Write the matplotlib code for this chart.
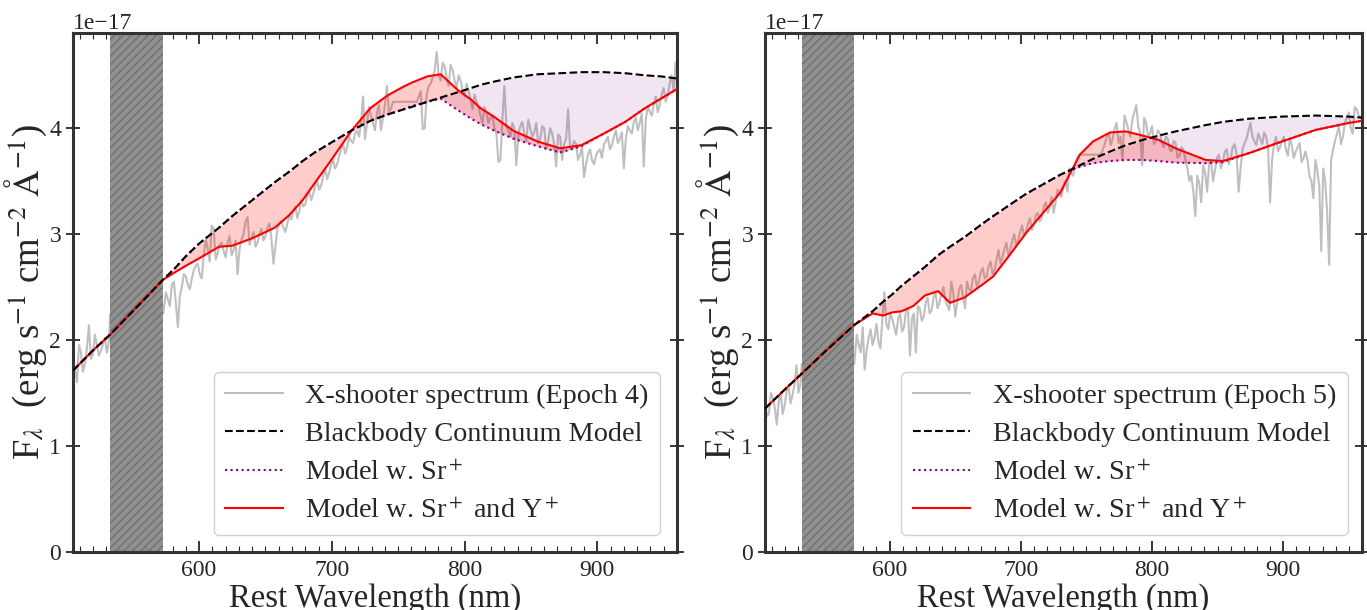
import numpy as np
import matplotlib
matplotlib.use('Agg')
import matplotlib.pyplot as plt
from matplotlib.ticker import MultipleLocator

plt.rcParams['font.family'] = ['Liberation Serif', 'DejaVu Serif']
plt.rcParams['mathtext.fontset'] = 'stix'
plt.rcParams['axes.unicode_minus'] = True

# spectrum wavelengths (nm): blue end, masked gap (533-573), red part
wl_blue = np.arange(505, 533, 1.5)
wl_gap = [533, 573]
wl_red = np.arange(575, 960, 1.5)

# X-shooter spectrum, Epoch 4 (units 1e-17 erg/s/cm2/A)
# values on the 3 nm points, then the in-between points
ep4_blue = [1.80, 1.60, 1.88, 1.78, 2.14, 1.86, 1.95, 1.90, 2.02, 1.98]
ep4_blue_mid = [1.72, 1.95, 1.70, 1.92, 1.82, 2.05, 1.85, 1.96, 1.88]
ep4_gap = [2.24, 2.25]
ep4_red = [
    2.45, 2.32, 2.55, 2.12, 2.50, 2.60, 2.48, 2.66, 2.72, 2.58,
    2.95, 2.74, 3.05, 2.82, 2.92, 2.78, 2.98, 2.85, 2.62, 2.95,
    3.12, 2.90, 3.02, 2.92, 3.05, 2.98, 3.10, 2.72, 3.05, 3.12,
    3.02, 3.18, 3.22, 3.15, 3.32, 3.28, 3.40, 3.38, 3.50, 3.46,
    3.62, 3.58, 3.70, 3.66, 3.80, 3.76, 3.92, 3.86, 3.98, 4.05,
    3.90, 4.20, 4.05, 4.15, 3.98, 4.22, 4.15, 4.25, 4.25, 4.25,
    4.25, 4.25, 4.25, 4.25, 4.35, 4.00, 4.40, 4.48, 4.72, 4.45,
    4.58, 4.40, 4.55, 4.38, 4.45, 4.30, 4.35, 4.18, 4.25, 4.12,
    4.20, 4.05, 4.12, 3.95, 3.70, 4.40, 3.98, 4.05, 3.65, 4.02,
    3.95, 4.08, 3.92, 4.05, 3.90, 4.00, 3.88, 3.95, 3.64, 3.92,
    3.85, 4.18, 3.80, 3.85, 3.75, 3.54, 3.75, 3.70, 3.74, 3.80,
    3.85, 3.92, 3.84, 3.98, 3.90, 3.62, 4.02, 3.95, 4.10, 4.05,
    3.64, 4.20, 4.12, 4.30, 4.22, 4.38, 4.30, 4.50, 4.62,
]
ep4_red_mid = [
    2.38, 2.52, 2.35, 2.42, 2.62, 2.52, 2.58, 2.70, 2.62, 2.80,
    2.86, 3.08, 2.76, 2.90, 2.84, 2.92, 2.80, 2.94, 2.86, 3.00,
    3.16, 2.96, 2.88, 3.00, 2.94, 3.06, 2.96, 2.88, 3.10, 3.06,
    3.10, 3.14, 3.26, 3.22, 3.26, 3.36, 3.32, 3.46, 3.42, 3.55,
    3.52, 3.66, 3.62, 3.74, 3.85, 3.82, 3.88, 3.95, 3.92, 4.30,
    4.05, 4.12, 3.98, 4.22, 4.10, 4.40, 4.18, 4.25, 4.25, 4.25,
    4.25, 4.25, 4.25, 4.30, 3.99, 4.32, 4.42, 4.55, 4.50, 4.62,
    4.48, 4.60, 4.45, 4.50, 4.36, 4.42, 4.28, 4.32, 4.20, 4.05,
    4.15, 4.10, 4.00, 3.68, 4.08, 4.02, 3.92, 4.00, 3.94, 4.06,
    3.88, 4.00, 3.96, 3.86, 4.02, 3.80, 4.00, 3.85, 3.94, 3.70,
    3.90, 3.82, 3.88, 3.70, 3.82, 3.66, 3.80, 3.66, 3.78, 3.72,
    3.88, 3.80, 3.92, 3.86, 3.96, 3.90, 3.98, 4.06, 3.98, 4.14,
    4.08, 4.16, 4.22, 4.15, 4.32, 4.25, 4.42, 4.35,
]

# X-shooter spectrum, Epoch 5
ep5_blue = [1.42, 1.30, 1.45, 1.20, 1.50, 1.38, 1.55, 1.48, 1.76, 1.58]
ep5_blue_mid = [1.28, 1.50, 1.36, 1.42, 1.30, 1.52, 1.40, 1.58, 1.50]
ep5_gap = [1.77, 1.77]
ep5_red = [
    2.05, 1.88, 1.72, 2.02, 1.95, 2.15, 1.92, 2.45, 2.10, 2.20,
    2.05, 2.25, 2.12, 2.30, 2.20, 1.88, 2.30, 2.22, 2.40, 2.28,
    2.45, 2.35, 2.50, 2.32, 2.55, 2.22, 2.48, 2.40, 2.55, 2.46,
    2.62, 2.55, 2.68, 2.60, 2.74, 2.66, 2.85, 2.78, 2.92, 2.85,
    3.00, 2.95, 3.08, 3.02, 3.15, 3.08, 3.20, 3.15, 3.30, 3.25,
    3.20, 3.42, 3.35, 3.50, 3.62, 3.55, 3.72, 3.75, 3.75, 3.75,
    3.75, 3.75, 3.75, 3.85, 3.95, 3.90, 4.05, 3.92, 4.12, 3.98,
    4.08, 4.22, 3.95, 4.10, 3.92, 4.02, 3.88, 3.95, 3.82, 3.90,
    3.78, 3.86, 3.74, 3.80, 3.62, 3.55, 3.17, 3.48, 3.65, 3.40,
    3.70, 3.60, 3.75, 3.68, 3.80, 3.72, 3.85, 3.40, 3.80, 3.90,
    4.05, 3.88, 3.95, 3.85, 3.92, 3.30, 3.85, 3.78, 3.88, 3.80,
    3.90, 3.72, 3.82, 3.68, 3.78, 3.55, 3.34, 3.60, 2.84, 3.50,
    2.71, 3.80, 3.95, 3.85, 4.05, 4.15, 3.95, 4.18, 4.10,
]
ep5_red_mid = [
    1.95, 2.12, 1.90, 2.10, 2.02, 1.98, 2.20, 2.15, 2.25, 2.12,
    2.20, 2.08, 2.28, 1.85, 2.25, 2.32, 2.18, 2.35, 2.25, 2.40,
    2.30, 2.44, 2.38, 2.28, 2.45, 2.35, 2.52, 2.30, 2.48, 2.58,
    2.50, 2.64, 2.58, 2.70, 2.62, 2.76, 2.72, 2.86, 2.80, 2.94,
    2.88, 3.02, 2.98, 3.10, 3.04, 3.18, 3.12, 3.26, 3.20, 3.35,
    3.30, 3.38, 3.45, 3.40, 3.58, 3.66, 3.75, 3.75, 3.75, 3.75,
    3.75, 3.75, 3.80, 3.92, 3.84, 4.00, 3.86, 3.70, 4.06, 3.92,
    4.15, 4.02, 3.65, 4.05, 3.95, 3.85, 3.98, 3.86, 3.92, 3.80,
    3.88, 3.72, 3.82, 3.70, 3.50, 3.40, 3.55, 3.30, 3.58, 3.66,
    3.50, 3.72, 3.62, 3.78, 3.66, 3.82, 3.75, 3.62, 3.86, 3.98,
    3.92, 3.84, 3.90, 3.96, 3.80, 3.70, 3.92, 3.82, 3.92, 3.74,
    3.84, 3.78, 3.86, 3.72, 3.70, 3.50, 3.70, 3.45, 3.62, 3.20,
    3.70, 3.88, 4.02, 3.92, 4.10, 4.00, 4.20, 4.12,
]

# model curves, Epoch 4
model_wl4 = [505, 520, 533, 550, 573, 582, 590, 600, 615, 625, 640, 657, 668, 678,
             687, 699, 715, 729, 742, 752, 760, 772, 782, 795, 805, 812, 822, 837,
             855, 872, 888, 905, 921, 936, 948, 960]
bb_ep4 = [1.71, 1.90, 2.05, 2.27, 2.57, 2.68, 2.79, 2.91, 3.06, 3.17, 3.32, 3.49, 3.59, 3.69,
          3.77, 3.86, 3.98, 4.07, 4.13, 4.17, 4.20, 4.25, 4.29, 4.34, 4.38, 4.41, 4.44, 4.48,
          4.51, 4.52, 4.53, 4.53, 4.52, 4.50, 4.49, 4.47]
sr_ep4 = [1.71, 1.90, 2.05, 2.27, 2.57, 2.68, 2.79, 2.91, 3.06, 3.17, 3.32, 3.49, 3.59, 3.69,
          3.77, 3.86, 3.98, 4.07, 4.13, 4.17, 4.21, 4.25, 4.28, 4.17, 4.09, 4.04, 3.98, 3.90,
          3.83, 3.77, 3.83, 3.95, 4.06, 4.19, 4.28, 4.37]
sry_ep4 = [1.71, 1.90, 2.05, 2.27, 2.57, 2.64, 2.70, 2.77, 2.88, 2.89, 2.96, 3.06, 3.18, 3.32,
           3.48, 3.69, 3.98, 4.19, 4.31, 4.38, 4.43, 4.49, 4.51, 4.36, 4.27, 4.19, 4.11, 3.975,
           3.875, 3.81, 3.84, 3.95, 4.06, 4.19, 4.28, 4.37]

# model curves, Epoch 5
model_wl5 = [505, 520, 533, 550, 573, 587, 595, 602, 609, 618, 627, 637, 646, 657, 671,
             679, 692, 704, 717, 730, 737, 745, 755, 768, 780, 793, 805, 818, 841, 854,
             874, 899, 925, 950, 960]
bb_ep5 = [1.35, 1.53, 1.68, 1.88, 2.14, 2.27, 2.36, 2.43, 2.51, 2.60, 2.69, 2.80, 2.88, 2.97, 3.10,
          3.17, 3.28, 3.38, 3.47, 3.56, 3.60, 3.65, 3.71, 3.78, 3.84, 3.89, 3.93, 3.97, 4.03, 4.06,
          4.09, 4.11, 4.12, 4.11, 4.10]
sr_ep5 = [1.35, 1.53, 1.68, 1.88, 2.14, 2.27, 2.36, 2.43, 2.51, 2.60, 2.69, 2.80, 2.88, 2.97, 3.10,
          3.17, 3.28, 3.38, 3.47, 3.56, 3.60, 3.635, 3.67, 3.69, 3.70, 3.70, 3.69, 3.675, 3.67, 3.68,
          3.765, 3.875, 3.985, 4.05, 4.07]
sry_ep5 = [1.35, 1.53, 1.68, 1.88, 2.14, 2.25, 2.23, 2.26, 2.27, 2.32, 2.42, 2.46, 2.35, 2.40, 2.525,
           2.60, 2.81, 3.01, 3.20, 3.39, 3.56, 3.75, 3.875, 3.96, 3.97, 3.93, 3.89, 3.81, 3.70, 3.69,
           3.765, 3.875, 3.985, 4.05, 4.07]

scale = 1e-17
txt_col = '#262626'


def merge(main, mid):
    # put the in-between readings back between the 3 nm readings
    out = np.empty(len(main) + len(mid))
    out[0::2] = main
    out[1::2] = mid
    return out


def draw_panel(ax, blue, blue_mid, gap, red, red_mid, wl, bb, sr, sry, epoch, leg_x):
    spec_wl = np.concatenate([wl_blue, wl_gap, wl_red])
    spec = np.concatenate([merge(blue, blue_mid), gap, merge(red, red_mid)]) * scale
    bb = np.array(bb) * scale
    sr = np.array(sr) * scale
    sry = np.array(sry) * scale

    l_spec, = ax.plot(spec_wl, spec, color='gray', alpha=0.5, lw=1.5, zorder=1,
                      label=f'X-shooter spectrum (Epoch {epoch})')
    ax.axvspan(533, 573, facecolor='#8a8a8a', edgecolor='#6e6e6e', hatch='////',
               alpha=0.95, lw=0, zorder=2)
    ax.fill_between(wl, bb, sr, color='purple', alpha=0.1, lw=0, zorder=2)
    ax.fill_between(wl, sry, sr, color='red', alpha=0.2, lw=0, zorder=2)
    l_sr, = ax.plot(wl, sr, ':', color='purple', lw=1.5, zorder=3, label='Model w. Sr$^+$')
    l_sry, = ax.plot(wl, sry, '-', color='red', lw=1.5, zorder=4,
                     label='Model w. Sr$^+$ and Y$^+$')
    l_bb, = ax.plot(wl, bb, '--', color='black', lw=1.5, zorder=5,
                    label='Blackbody Continuum Model')

    ax.set_xlim(505, 960)
    ax.set_ylim(0, 4.9e-17)
    ax.xaxis.set_major_locator(MultipleLocator(100))
    ax.xaxis.set_minor_locator(MultipleLocator(10))
    ax.tick_params(axis='x', which='both', direction='in', top=True, bottom=True,
                   labelsize=17, colors=txt_col)
    ax.tick_params(axis='x', which='major', length=8, width=1.3, pad=6)
    ax.tick_params(axis='x', which='minor', length=4, width=0.8)
    ax.tick_params(axis='y', which='major', direction='inout', left=True, right=True,
                   length=10, width=1.3, labelsize=17, colors=txt_col)
    ax.yaxis.get_offset_text().set_fontsize(17)
    ax.yaxis.get_offset_text().set_color(txt_col)
    for sp in ax.spines.values():
        sp.set_linewidth(2.2)
        sp.set_color('#333333')

    ax.set_xlabel('Rest Wavelength (nm)', fontsize=23.5, color=txt_col, labelpad=2)
    ax.set_ylabel(r'F$_\lambda$  (erg s$^{-1}$ cm$^{-2}$ $\mathrm{\AA}^{-1}$)',
                  fontsize=26.5, color=txt_col, labelpad=0)

    leg = ax.legend(handles=[l_spec, l_bb, l_sr, l_sry], loc='lower right', fontsize=20.3,
                    handlelength=2.05, handletextpad=0.8, borderpad=0.4,
                    labelspacing=0.45, fancybox=True, framealpha=1, borderaxespad=0,
                    edgecolor='#d0d0d0', bbox_to_anchor=(leg_x, 0.031))
    for t in leg.get_texts():
        t.set_color(txt_col)


fig = plt.figure(figsize=(13.67, 6.1), dpi=100)
ax1 = fig.add_axes([0.0534, 0.0959, 0.4418, 0.850])
ax2 = fig.add_axes([0.5596, 0.0959, 0.4367, 0.850])

draw_panel(ax1, ep4_blue, ep4_blue_mid, ep4_gap, ep4_red, ep4_red_mid,
           model_wl4, bb_ep4, sr_ep4, sry_ep4, 4, 0.972)
draw_panel(ax2, ep5_blue, ep5_blue_mid, ep5_gap, ep5_red, ep5_red_mid,
           model_wl5, bb_ep5, sr_ep5, sry_ep5, 5, 0.976)

fig.savefig('out.png', dpi=100)
